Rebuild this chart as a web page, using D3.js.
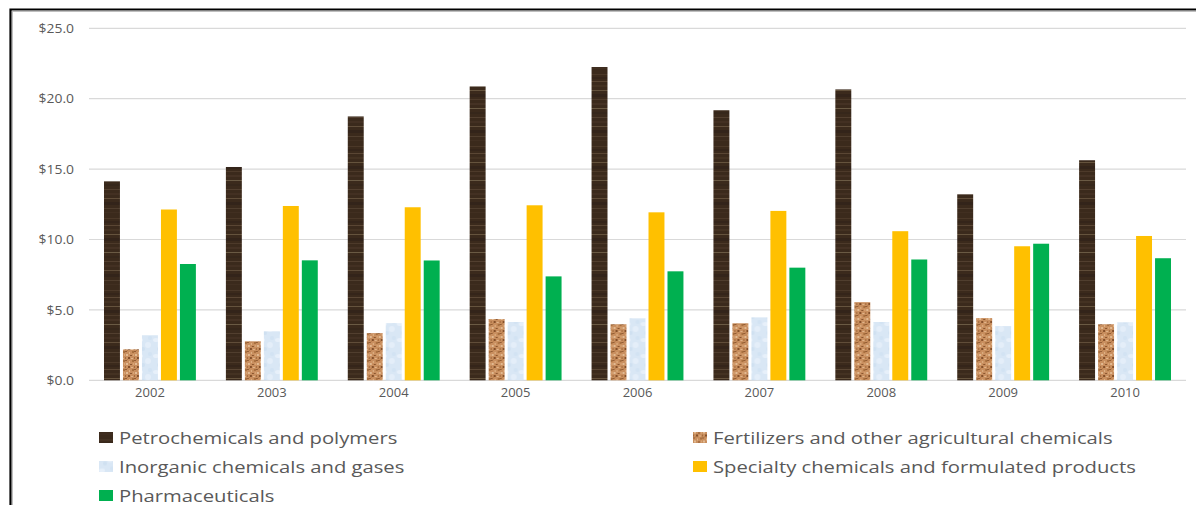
<!DOCTYPE html>
<html>
<head>
<meta charset="utf-8">
<script src="https://cdn.jsdelivr.net/npm/d3@7"></script>
<style>
  html, body { margin: 0; padding: 0; background: #fff; }
  svg { display: block; }
  text { font-family: "Open Sans", "Noto Sans", sans-serif; fill: #595959; }
</style>
</head>
<body>
<svg id="chart" width="1196" height="505"></svg>
<script>
// Chemical industry shipments by segment, billions of dollars
const years = ["2002", "2003", "2004", "2005", "2006", "2007", "2008", "2009", "2010"];
const seriesNames = [
  "Petrochemicals and polymers",
  "Fertilizers and other agricultural chemicals",
  "Inorganic chemicals and gases",
  "Specialty chemicals and formulated products",
  "Pharmaceuticals"
];
const petrochemicals = [14.13, 15.15, 18.74, 20.87, 22.25, 19.18, 20.66, 13.21, 15.63];
const fertilizers    = [2.20, 2.77, 3.35, 4.35, 3.98, 4.05, 5.55, 4.42, 3.98];
const inorganics     = [3.20, 3.48, 4.06, 4.14, 4.40, 4.47, 4.14, 3.85, 4.12];
const specialty      = [12.13, 12.38, 12.29, 12.43, 11.93, 12.03, 10.59, 9.52, 10.25];
const pharmaceuticals = [8.26, 8.52, 8.51, 7.38, 7.74, 8.00, 8.58, 9.70, 8.67];
const yTicks = [0, 5, 10, 15, 20, 25];

const seriesValues = [petrochemicals, fertilizers, inorganics, specialty, pharmaceuticals];

const svg = d3.select("#chart");
const defs = svg.append("defs");

// ---- texture fills ----
// dark wood grain
const wood = defs.append("pattern").attr("id", "wood")
  .attr("patternUnits", "userSpaceOnUse").attr("width", 40).attr("height", 72);
wood.append("rect").attr("width", 40).attr("height", 72).attr("fill", "#3b2a1c");
const woodStripes = [
  [2, 1, "#4b3828"], [5, 2, "#35251a"], [9, 1, "#5a4634"], [13, 2, "#443222"],
  [18, 1, "#65533d"], [22, 3, "#33241a"], [27, 1, "#4d3a2a"], [31, 2, "#453224"],
  [36, 1, "#6a5a44"], [40, 2, "#36271b"], [45, 1, "#523f2f"], [49, 2, "#433022"],
  [54, 1, "#604d39"], [58, 3, "#33241a"], [64, 1, "#503e2e"], [68, 1, "#412f21"]
];
woodStripes.forEach(([y, h, c]) => wood.append("rect")
  .attr("x", 0).attr("y", y).attr("width", 40).attr("height", h).attr("fill", c));

// cork
const cork = defs.append("pattern").attr("id", "cork")
  .attr("patternUnits", "userSpaceOnUse").attr("width", 9).attr("height", 9);
cork.append("rect").attr("width", 9).attr("height", 9).attr("fill", "#c98f5f");
const corkSpots = [
  [0, 0, 2, 1, "#935d35"], [4, 1, 1, 2, "#e0b487"], [7, 0, 2, 2, "#a8703f"],
  [1, 3, 2, 2, "#e2ba92"], [5, 4, 2, 1, "#8a552e"], [8, 3, 1, 2, "#d9a676"],
  [0, 6, 1, 2, "#a36a3c"], [3, 6, 2, 2, "#85502a"], [6, 7, 2, 1, "#e0b58b"],
  [2, 8, 1, 1, "#b67c49"]
];
corkSpots.forEach(([x, y, w, h, c]) => cork.append("rect")
  .attr("x", x).attr("y", y).attr("width", w).attr("height", h).attr("fill", c));

// pale blue droplets
const drops = defs.append("pattern").attr("id", "drops")
  .attr("patternUnits", "userSpaceOnUse").attr("width", 16).attr("height", 16);
drops.append("rect").attr("width", 16).attr("height", 16).attr("fill", "#d9e7f5");
[[3, 4, 3, 2, "#e7f0fa"], [11, 9, 3, 3, "#e4eef9"], [6, 13, 2, 2, "#cfe0f1"], [13, 2, 2, 2, "#d2e3f3"]]
  .forEach(([cx, cy, rx, ry, c]) => drops.append("ellipse")
    .attr("cx", cx).attr("cy", cy).attr("rx", rx).attr("ry", ry).attr("fill", c));

const fills = ["url(#wood)", "url(#cork)", "url(#drops)", "#FFC000", "#00B050"];

// ---- scales ----
const plotLeft = 89, plotRight = 1186, plotTop = 28.3, plotBottom = 380.3;
const x0 = d3.scaleBand().domain(years).range([plotLeft, plotRight]);
const groupPad = 15;
const x1 = d3.scaleBand().domain(d3.range(seriesNames.length))
  .range([groupPad, x0.bandwidth() - groupPad]).paddingInner(0.16);
const y = d3.scaleLinear().domain([0, 25]).range([plotBottom, plotTop]);

// ---- gridlines ----
svg.append("g").selectAll("line").data(yTicks).join("line")
  .attr("x1", plotLeft).attr("x2", plotRight)
  .attr("y1", d => y(d)).attr("y2", d => y(d))
  .attr("stroke", "#d9d9d9").attr("stroke-width", 1.2);

// ---- y axis labels ----
const yAxis = svg.append("g").attr("transform", "translate(74,0)")
  .call(d3.axisLeft(y).tickValues(yTicks).tickFormat(d => "$" + d.toFixed(1)).tickSize(0).tickPadding(0));
yAxis.select(".domain").remove();
yAxis.selectAll("text").attr("font-size", 13).attr("font-family", null).style("fill", "#595959")
  .attr("x", null).attr("transform", "scale(1.07,1)");

// ---- bars ----
const groups = svg.append("g").selectAll("g").data(years).join("g")
  .attr("transform", d => `translate(${x0(d)},0)`);
groups.selectAll("rect")
  .data((d, i) => seriesValues.map((vals, s) => ({ s, v: vals[i] })))
  .join("rect")
  .attr("x", d => x1(d.s))
  .attr("width", x1.bandwidth())
  .attr("y", d => y(d.v))
  .attr("height", d => plotBottom - y(d.v))
  .attr("fill", d => fills[d.s]);

// ---- x axis labels ----
const xAxis = svg.append("g").attr("transform", `translate(0,${plotBottom + 7})`)
  .call(d3.axisBottom(x0).tickSize(0).tickPadding(0));
xAxis.select(".domain").remove();
xAxis.selectAll("text").attr("font-size", 13).attr("font-family", null).style("fill", "#595959");

// ---- legend ----
const legendCols = [99, 693];
const legendRows = [437.5, 466.5, 495.5];
const legend = svg.append("g").selectAll("g").data(seriesNames).join("g")
  .attr("transform", (d, i) => `translate(${legendCols[i % 2]},${legendRows[Math.floor(i / 2)]})`);
legend.append("rect").attr("x", 0).attr("y", -5.5).attr("width", 14).attr("height", 11)
  .attr("fill", (d, i) => fills[i]);
legend.append("text").attr("transform", "translate(20,0) scale(1.19,1)").attr("dy", "0.36em")
  .attr("font-size", 17).text(d => d);

// ---- chart frame ----
svg.append("path").attr("d", "M10.5,505 V9.5 H1196")
  .attr("fill", "none").attr("stroke", "#000").attr("stroke-width", 2.2);
svg.append("path").attr("d", "M12.3,505 V11.3 H1196")
  .attr("fill", "none").attr("stroke", "#9a9a9a").attr("stroke-width", 0.8);
</script>
</body>
</html>
